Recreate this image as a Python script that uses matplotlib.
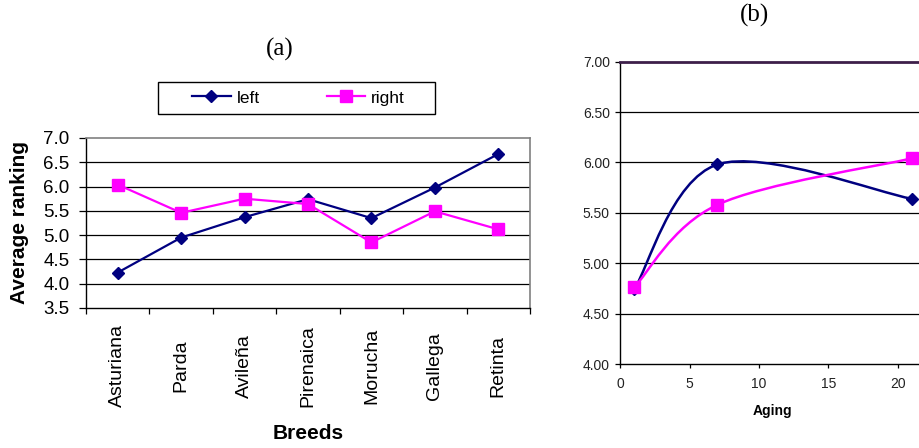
import numpy as np
import matplotlib
matplotlib.use("Agg")
import matplotlib.pyplot as plt
from matplotlib.lines import Line2D
from matplotlib.path import Path
from matplotlib.patches import PathPatch, Rectangle

plt.rcParams['font.family'] = ['Liberation Sans', 'DejaVu Sans']

# ---- data (a) ----
breeds = ["Asturiana", "Parda", "Avileña", "Pirenaica", "Morucha", "Gallega", "Retinta"]
left_a = [4.23, 4.95, 5.37, 5.74, 5.35, 5.98, 6.67]
right_a = [6.04, 5.46, 5.75, 5.64, 4.85, 5.49, 5.12]
yticks_a = [3.5, 4.0, 4.5, 5.0, 5.5, 6.0, 6.5, 7.0]

# ---- data (b) ----
aging = [1, 7, 21]
left_b = [4.74, 5.98, 5.64]
right_b = [4.76, 5.58, 6.04]
yticks_b = [4.00, 4.50, 5.00, 5.50, 6.00, 6.50, 7.00]
xticks_b = [0, 5, 10, 15, 20]

NAVY = "#000080"
MAG = "#FF00FF"

W, H = 920, 448
fig = plt.figure(figsize=(W / 100, H / 100), dpi=100)

def fx(px):
    return px / W

def fy(py):
    return 1 - py / H

# ================= panel (a) =================
axa = fig.add_axes([fx(86), fy(308), (530 - 86) / W, (308 - 138) / H])
xs = np.arange(len(breeds))
axa.set_xlim(-0.5, len(breeds) - 0.5)
axa.set_ylim(3.5, 7.0)
for v in yticks_a[1:-1]:
    axa.axhline(v, color="black", lw=0.9, zorder=1)
axa.plot(xs, left_a, color=NAVY, lw=1.6, marker="D", ms=6.2, mfc=NAVY, mec=NAVY, zorder=3)
axa.plot(xs, right_a, color=MAG, lw=1.6, marker="s", ms=8, mfc=MAG, mec=MAG, zorder=3)
axa.set_yticks(yticks_a)
axa.set_yticklabels([f"{v:.1f}" for v in yticks_a], fontsize=13.5)
axa.tick_params(axis="y", direction="out", length=5, width=0.9, pad=7)
axa.set_xticks(np.arange(-0.5, len(breeds)))
axa.set_xticklabels([])
axa.tick_params(axis="x", direction="out", length=4, width=0.9)
for s in ["top", "right"]:
    axa.spines[s].set_color("#808080")
    axa.spines[s].set_linewidth(1.2)
for s in ["left", "bottom"]:
    axa.spines[s].set_color("black")
    axa.spines[s].set_linewidth(1.0)
for i, b in enumerate(breeds):
    axa.text(i, -0.34, b, rotation=90, ha="center", va="center", fontsize=14,
             transform=axa.get_xaxis_transform())
fig.text(fx(20), fy(222), "Average ranking", rotation=90, ha="center", va="center",
         fontsize=15, fontweight="bold")
fig.text(fx(308), fy(433), "Breeds", ha="center", va="center",
         fontsize=15, fontweight="bold")

# legend (a)
handles = [
    Line2D([], [], color=NAVY, lw=1.6, marker="D", ms=6.2, mfc=NAVY, mec=NAVY),
    Line2D([], [], color=MAG, lw=1.6, marker="s", ms=8, mfc=MAG, mec=MAG),
]
fig.legend(handles, ["left", "right"], loc="center", ncol=2, frameon=False,
           bbox_to_anchor=(fx(298.5), fy(98)), fontsize=12.5,
           handlelength=2.2, handletextpad=0.35, columnspacing=3.85,
           borderpad=0.0)
fig.patches.append(Rectangle((fx(158), fy(114)), (435 - 158) / W, (114 - 82) / H,
                             transform=fig.transFigure, fill=False,
                             edgecolor="black", lw=1.0))

fig.text(fx(280), fy(49), "(a)", ha="center", va="center", fontsize=18,
         family="Liberation Serif")

# ================= panel (b) =================
axb = fig.add_axes([fx(620.3), fy(364), 25 * 13.87 / W, (364 - 61.7) / H])
axb.set_xlim(0, 25)
axb.set_ylim(4.0, 7.0)
for v in yticks_b[1:-1]:
    axb.axhline(v, color="black", lw=0.9, zorder=1)


def smooth_path(x, y):
    x = np.asarray(x, float)
    y = np.asarray(y, float)
    n = len(x)
    verts = [(x[0], y[0])]
    codes = [Path.MOVETO]
    for i in range(n - 1):
        p0 = np.array([x[max(i - 1, 0)], y[max(i - 1, 0)]])
        p1 = np.array([x[i], y[i]])
        p2 = np.array([x[i + 1], y[i + 1]])
        p3 = np.array([x[min(i + 2, n - 1)], y[min(i + 2, n - 1)]])
        c1 = p1 + (p2 - p0) / 6.0
        c2 = p2 - (p3 - p1) / 6.0
        verts += [tuple(c1), tuple(c2), tuple(p2)]
        codes += [Path.CURVE4] * 3
    return Path(verts, codes)


axb.add_patch(PathPatch(smooth_path(aging, left_b), fill=False, edgecolor=NAVY, lw=1.8, zorder=3))
axb.add_patch(PathPatch(smooth_path(aging, right_b), fill=False, edgecolor=MAG, lw=1.8, zorder=3))
axb.plot(aging, left_b, ls="none", marker="D", ms=6.2, mfc=NAVY, mec=NAVY, zorder=4)
axb.plot(aging, right_b, ls="none", marker="s", ms=8, mfc=MAG, mec=MAG, zorder=5)

axb.set_yticks(yticks_b)
axb.set_yticklabels([f"{v:.2f}" for v in yticks_b], fontsize=10, color="#222222")
axb.set_xticks(xticks_b)
axb.set_xticklabels([str(v) for v in xticks_b], fontsize=10, color="#222222")
axb.tick_params(axis="y", direction="out", length=3.5, width=0.9, pad=4)
axb.tick_params(axis="x", direction="out", length=3, width=0.9, pad=6)
axb.spines["right"].set_visible(False)
axb.spines["top"].set_color("#3d1f4a")
axb.spines["top"].set_linewidth(2.0)
for s in ["left", "bottom"]:
    axb.spines[s].set_color("black")
    axb.spines[s].set_linewidth(1.0)
fig.text(fx(772.5), fy(411), "Aging", ha="center", va="center",
         fontsize=10, fontweight="bold")

fig.text(fx(755), fy(15), "(b)", ha="center", va="center", fontsize=18,
         family="Liberation Serif")

fig.savefig("out.png", dpi=100)
